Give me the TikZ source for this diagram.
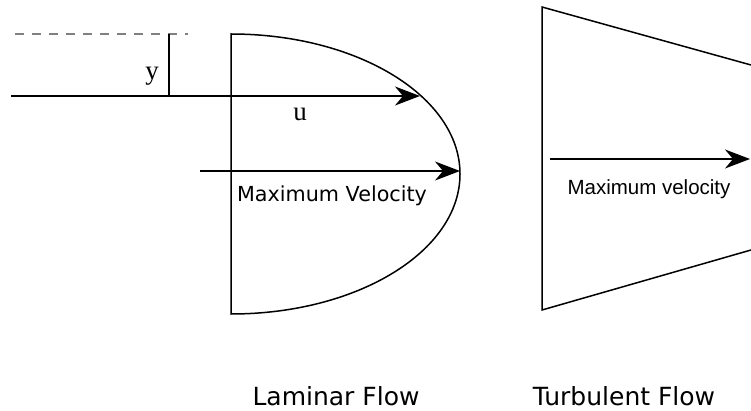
\documentclass[tikz,border=0pt]{standalone}
\usepackage{fontspec}
\setmainfont{Liberation Serif}
\newfontfamily\verdanafont{DejaVu Sans}
\newfontfamily\arialfont{Liberation Sans}
\usetikzlibrary{arrows.meta}

\begin{document}
\begin{tikzpicture}[x=1pt,y=-1pt,
  profile/.style={line width=1.5pt},
  velarrow/.style={line width=1.5pt,-{Stealth[length=25pt,width=19pt,inset=8pt]}},
  seriflabel/.style={font=\fontsize{27}{29}\selectfont,inner sep=0pt},
  verdlabel/.style={font=\verdanafont\fontsize{20.7}{24}\selectfont,inner sep=0pt},
  ariallabel/.style={font=\arialfont\fontsize{20.5}{22}\selectfont,inner sep=0pt},
  flowtitle/.style={font=\verdanafont\fontsize{25}{28}\selectfont,inner sep=0pt}]
\useasboundingbox (0,0) rectangle (751,411);
% points of the laminar profile
\coordinate (dashL) at (15,34);
\coordinate (dashR) at (188,34);
\coordinate (tickT) at (169,34);
\coordinate (tickB) at (169,96);
\coordinate (uStart) at (11,96);
\coordinate (uEnd) at (420,96);
\coordinate (lamStart) at (200,171);
\coordinate (lamEnd) at (460,171);
\coordinate (lamTop) at (231,34);
\coordinate (lamBot) at (231,314);
% points of the turbulent profile
\coordinate (turbTL) at (542,7);
\coordinate (turbTR) at (751,65);
\coordinate (turbBL) at (542,310);
\coordinate (turbBR) at (751,250);
\coordinate (turbStart) at (550,159);
\coordinate (turbEnd) at (750,159);

\draw [gray, line width=1.3pt, dash pattern=on 9pt off 8pt] (dashL) -- (dashR);
\draw [profile] (tickT) -- (tickB);
\draw [profile] (lamBot) -- (lamTop) arc[start angle=-90, end angle=90, x radius=229, y radius=140] -- cycle;
\draw [profile] (turbTR) -- (turbTL) -- (turbBL) -- (turbBR);

\draw [velarrow] (uStart) -- (uEnd);
\draw [velarrow] (lamStart) -- (lamEnd);
\draw [velarrow] (turbStart) -- (turbEnd);

\node [seriflabel, anchor=base] (ylab) at (152,80) {y};
\node [seriflabel, anchor=base] (ulab) at (300,121) {u};
\node [verdlabel, anchor=base] (lamMax) at (332,202) {Maximum Velocity};
\node [ariallabel, anchor=base] (turbMax) at (649,195) {Maximum velocity};
\node [flowtitle, anchor=base] (lamTitle) at (336,405) {Laminar Flow};
\node [flowtitle, anchor=base] (turbTitle) at (624,405) {Turbulent Flow};
\end{tikzpicture}
\end{document}
